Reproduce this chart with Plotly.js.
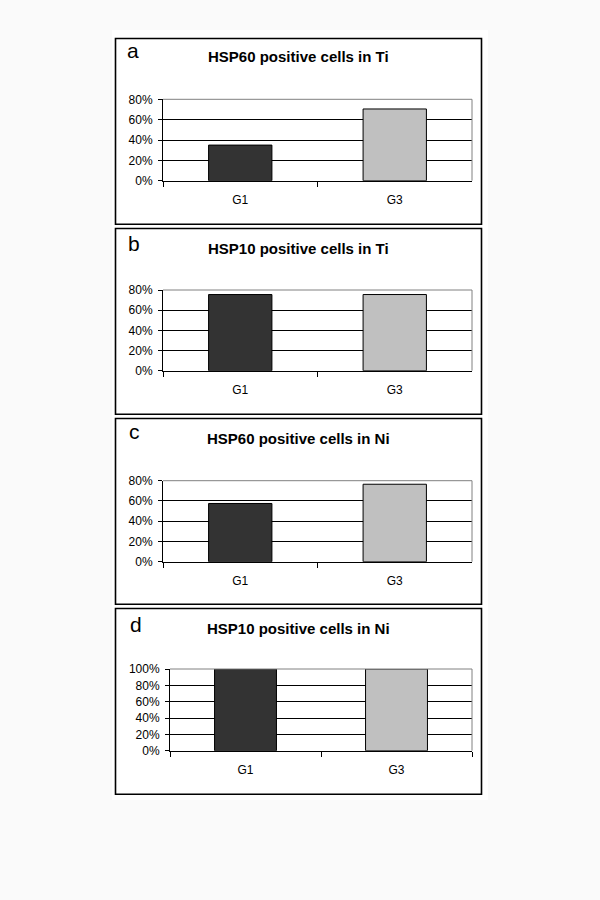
<!DOCTYPE html>
<html>
<head>
<meta charset="utf-8">
<script src="https://cdn.plot.ly/plotly-3.0.1.min.js"></script>
<style>html,body{margin:0;padding:0;background:#fafafa;}#chart{width:600px;height:900px;}</style>
</head>
<body>
<div id="chart"></div>
<script>
// ---- data ----
var categories = ['G1', 'G3'];
var hsp60Ti = [35, 70.5];
var hsp10Ti = [75.5, 75.5];
var hsp60Ni = [57.5, 76.5];
var hsp10Ni = [100, 100];
var panelLetters = ['a', 'b', 'c', 'd'];
var panelTitles = ['HSP60 positive cells in Ti', 'HSP10 positive cells in Ti',
                   'HSP60 positive cells in Ni', 'HSP10 positive cells in Ni'];
var yMax = [80, 80, 80, 100];
var barColors = ['#333333', '#c0c0c0'];

// ---- layout helpers (pixel -> paper) ----
var W = 600, H = 900;
function px(x) { return x / W; }
function py(y) { return 1 - y / H; }

var series = [hsp60Ti, hsp10Ti, hsp60Ni, hsp10Ni];
var plotBoxes = [
  {x0: 163, x1: 472, y0: 99.3, y1: 180.7},
  {x0: 163, x1: 472, y0: 290, y1: 370.7},
  {x0: 163, x1: 472, y0: 480.7, y1: 561.7},
  {x0: 170, x1: 472, y0: 669, y1: 750.7}
];
var frames = [
  {y0: 38.5, y1: 224.3},
  {y0: 228.5, y1: 414.3},
  {y0: 418.5, y1: 604.3},
  {y0: 608.5, y1: 794.3}
];
var letterPos = [[125, 50], [126, 244], [127, 431], [127.5, 624]];
var titleY = [56.7, 248, 438.5, 628.5];

var font = 'Liberation Sans, Arial, sans-serif';
var traces = [];
var layout = {
  width: W, height: H,
  margin: {l: 0, r: 0, t: 0, b: 0},
  paper_bgcolor: '#fafafa',
  plot_bgcolor: 'rgba(0,0,0,0)',
  showlegend: false,
  bargap: 0.59,
  font: {family: font, color: '#000'},
  shapes: [
    {type: 'rect', xref: 'paper', yref: 'paper', x0: px(112), x1: px(488), y0: py(800), y1: py(30),
     fillcolor: '#ffffff', line: {width: 0}, layer: 'below'}
  ],
  annotations: []
};

for (var i = 0; i < 4; i++) {
  var n = i === 0 ? '' : String(i + 1);
  var b = plotBoxes[i];
  traces.push({
    type: 'bar', x: categories, y: series[i],
    xaxis: 'x' + n, yaxis: 'y' + n,
    marker: {color: barColors, line: {color: '#000', width: 1}},
    hoverinfo: 'x+y'
  });
  layout['xaxis' + n] = {
    domain: [px(b.x0), px(b.x1)], anchor: 'y' + n,
    showline: true, linecolor: '#000', linewidth: 1,
    ticks: 'outside', tickson: 'boundaries', ticklen: 5, tickcolor: '#000', tickwidth: 1,
    ticklabelstandoff: 8,
    tickfont: {family: font, size: 12, color: '#000'},
    showgrid: false, fixedrange: true
  };
  layout['yaxis' + n] = {
    domain: [py(b.y1), py(b.y0)], anchor: 'x' + n,
    range: [0, yMax[i]], dtick: 20, tick0: 0, ticksuffix: '%',
    showline: true, linecolor: '#000', linewidth: 1,
    ticks: 'outside', ticklen: 4, tickcolor: '#000', tickwidth: 1,
    ticklabelstandoff: 3,
    tickfont: {family: font, size: 12, color: '#000'},
    showgrid: true, gridcolor: '#000', gridwidth: 1,
    zeroline: false, fixedrange: true
  };
  // gray plot-area border (top and right)
  layout.shapes.push({
    type: 'line', xref: 'x' + n + ' domain', yref: 'y' + n + ' domain',
    x0: 0, x1: 1, y0: 1, y1: 1, line: {color: '#808080', width: 1}, layer: 'above'
  });
  layout.shapes.push({
    type: 'line', xref: 'x' + n + ' domain', yref: 'y' + n + ' domain',
    x0: 1, x1: 1, y0: 0, y1: 1, line: {color: '#808080', width: 1}, layer: 'above'
  });
  // black frame around panel
  layout.shapes.push({
    type: 'rect', xref: 'paper', yref: 'paper',
    x0: px(115.5), x1: px(481.5), y0: py(frames[i].y1), y1: py(frames[i].y0),
    line: {color: '#000', width: 1.6}, fillcolor: 'rgba(0,0,0,0)'
  });
  layout.annotations.push({
    xref: 'paper', yref: 'paper', x: px(letterPos[i][0]), y: py(letterPos[i][1]),
    xanchor: 'left', yanchor: 'middle', showarrow: false,
    text: panelLetters[i], font: {family: font, size: 21, color: '#000'}
  });
  layout.annotations.push({
    xref: 'paper', yref: 'paper', x: px(298.5), y: py(titleY[i]),
    xanchor: 'center', yanchor: 'middle', showarrow: false,
    text: '<b>' + panelTitles[i] + '</b>', font: {family: font, size: 15, color: '#000'}
  });
}

Plotly.newPlot('chart', traces, layout, {displayModeBar: false, staticPlot: true});
</script>
</body>
</html>
